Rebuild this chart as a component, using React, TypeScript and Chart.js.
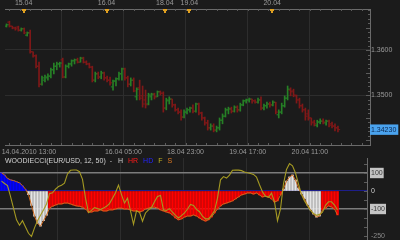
import { useEffect, useRef } from 'react';
import { Chart, registerables } from 'chart.js';

Chart.register(...registerables);

const FONT = '"Liberation Sans", Arial, sans-serif';
const BG = '#1b1b1b';
const GRID = '#2d2d2d';

// ---- Price bars (EUR/USD, hourly) ----
const open = [
  1.3653, 1.3662, 1.3653, 1.3649, 1.3651, 1.3644, 1.3647, 1.3633, 1.3638, 1.3596,
  1.3587, 1.3564, 1.3524, 1.3533, 1.3538, 1.3542, 1.3556, 1.3564, 1.3569, 1.3578,
  1.3540, 1.3564, 1.3569, 1.3576, 1.3578, 1.3573, 1.3582, 1.3573, 1.3569, 1.3562,
  1.3533, 1.3547, 1.3540, 1.3549, 1.3538, 1.3533, 1.3518, 1.3531, 1.3536, 1.3547,
  1.3558, 1.3538, 1.3524, 1.3533, 1.3496, 1.3516, 1.3498, 1.3489, 1.3480, 1.3496,
  1.3502, 1.3496, 1.3507, 1.3504, 1.3471, 1.3487, 1.3491, 1.3478, 1.3467, 1.3462,
  1.3451, 1.3462, 1.3467, 1.3471, 1.3464, 1.3480, 1.3460, 1.3449, 1.3438, 1.3427,
  1.3431, 1.3422, 1.3427, 1.3444, 1.3453, 1.3467, 1.3469, 1.3464, 1.3473, 1.3467,
  1.3478, 1.3487, 1.3489, 1.3491, 1.3487, 1.3484, 1.3489, 1.3471, 1.3476, 1.3480,
  1.3478, 1.3484, 1.3456, 1.3462, 1.3476, 1.3493, 1.3511, 1.3509, 1.3498, 1.3489,
  1.3476, 1.3467, 1.3458, 1.3449, 1.3440, 1.3433, 1.3440, 1.3442, 1.3438, 1.3442,
  1.3436, 1.3431, 1.3427,
];
const high = [
  1.3658, 1.3664, 1.3653, 1.3651, 1.3653, 1.3649, 1.3649, 1.3640, 1.3644, 1.3596,
  1.3589, 1.3573, 1.3542, 1.3544, 1.3547, 1.3560, 1.3571, 1.3573, 1.3573, 1.3582,
  1.3567, 1.3571, 1.3578, 1.3580, 1.3582, 1.3584, 1.3584, 1.3576, 1.3571, 1.3564,
  1.3551, 1.3551, 1.3553, 1.3551, 1.3542, 1.3540, 1.3533, 1.3538, 1.3551, 1.3560,
  1.3560, 1.3542, 1.3538, 1.3538, 1.3516, 1.3533, 1.3520, 1.3511, 1.3504, 1.3504,
  1.3504, 1.3509, 1.3509, 1.3507, 1.3493, 1.3496, 1.3491, 1.3480, 1.3471, 1.3467,
  1.3467, 1.3471, 1.3473, 1.3478, 1.3482, 1.3482, 1.3462, 1.3451, 1.3444, 1.3436,
  1.3436, 1.3431, 1.3449, 1.3458, 1.3471, 1.3473, 1.3473, 1.3476, 1.3476, 1.3482,
  1.3489, 1.3491, 1.3493, 1.3491, 1.3489, 1.3493, 1.3496, 1.3480, 1.3484, 1.3484,
  1.3487, 1.3484, 1.3467, 1.3482, 1.3498, 1.3520, 1.3516, 1.3513, 1.3500, 1.3493,
  1.3480, 1.3471, 1.3467, 1.3449, 1.3444, 1.3444, 1.3447, 1.3447, 1.3444, 1.3444,
  1.3440, 1.3436, 1.3431,
];
const low = [
  1.3651, 1.3651, 1.3647, 1.3644, 1.3642, 1.3642, 1.3636, 1.3631, 1.3593, 1.3584,
  1.3560, 1.3518, 1.3522, 1.3529, 1.3533, 1.3538, 1.3547, 1.3556, 1.3562, 1.3538,
  1.3538, 1.3560, 1.3564, 1.3569, 1.3571, 1.3573, 1.3571, 1.3567, 1.3560, 1.3529,
  1.3529, 1.3536, 1.3536, 1.3533, 1.3529, 1.3522, 1.3511, 1.3520, 1.3533, 1.3533,
  1.3533, 1.3518, 1.3520, 1.3507, 1.3489, 1.3489, 1.3473, 1.3471, 1.3478, 1.3489,
  1.3491, 1.3496, 1.3500, 1.3462, 1.3467, 1.3480, 1.3473, 1.3464, 1.3458, 1.3444,
  1.3449, 1.3458, 1.3462, 1.3460, 1.3462, 1.3456, 1.3444, 1.3433, 1.3422, 1.3422,
  1.3418, 1.3418, 1.3422, 1.3436, 1.3451, 1.3458, 1.3460, 1.3462, 1.3462, 1.3464,
  1.3476, 1.3482, 1.3484, 1.3482, 1.3482, 1.3482, 1.3467, 1.3467, 1.3471, 1.3473,
  1.3476, 1.3458, 1.3449, 1.3458, 1.3473, 1.3489, 1.3498, 1.3496, 1.3482, 1.3471,
  1.3462, 1.3444, 1.3444, 1.3433, 1.3431, 1.3429, 1.3436, 1.3436, 1.3433, 1.3429,
  1.3427, 1.3420, 1.3418,
];
const close = [
  1.3656, 1.3653, 1.3649, 1.3647, 1.3644, 1.3647, 1.3638, 1.3638, 1.3596, 1.3587,
  1.3564, 1.3524, 1.3538, 1.3540, 1.3542, 1.3556, 1.3564, 1.3569, 1.3571, 1.3540,
  1.3564, 1.3569, 1.3576, 1.3578, 1.3573, 1.3582, 1.3573, 1.3569, 1.3562, 1.3533,
  1.3547, 1.3540, 1.3549, 1.3538, 1.3533, 1.3527, 1.3531, 1.3536, 1.3547, 1.3558,
  1.3538, 1.3524, 1.3533, 1.3509, 1.3513, 1.3493, 1.3480, 1.3478, 1.3500, 1.3502,
  1.3496, 1.3507, 1.3504, 1.3471, 1.3489, 1.3491, 1.3478, 1.3467, 1.3462, 1.3451,
  1.3462, 1.3467, 1.3471, 1.3464, 1.3480, 1.3460, 1.3449, 1.3438, 1.3427, 1.3431,
  1.3422, 1.3427, 1.3444, 1.3453, 1.3467, 1.3469, 1.3464, 1.3473, 1.3467, 1.3478,
  1.3487, 1.3489, 1.3491, 1.3487, 1.3484, 1.3489, 1.3471, 1.3476, 1.3480, 1.3478,
  1.3484, 1.3462, 1.3462, 1.3476, 1.3493, 1.3513, 1.3507, 1.3500, 1.3489, 1.3476,
  1.3467, 1.3453, 1.3449, 1.3438, 1.3436, 1.3440, 1.3442, 1.3440, 1.3442, 1.3433,
  1.3431, 1.3427, 1.3423,
];

// ---- Woodie CCI (12, 50) ----
const cciHist = [
  100, 90, 70, 62, 58, 52, 45, 30, 10,
  -20, -80, -140, -180, -195, -165, -135,
  -95, -85, -78, -72, -72, -67, -67, -72, -78, -83, -85, -90, -100, -117,
  -117, -111, -111, -105, -111, -111, -105, -105, -100, -95, -95, -100, -100, -105, -111, -111, -117, -111, -100, -95,
  -90, -90, -95, -105, -111, -117, -122, -133, -150, -160, -155, -145, -139, -139, -133, -139, -150, -160, -167, -160,
  -145, -122, -100, -83, -72, -67, -61, -55, -44, -33, -22, -17, -11, -11, -17, -11, -22, -33, -28, -33, -44, -61, -55, -22,
  11, 55, 78, 89, 61, 17,
  -17, -44, -78, -105, -128, -145, -139,
  -105, -95, -83, -89, -100, -133,
];
// 1 = up trend (HD), -1 = down trend (HR), 0 = neutral (H)
const trend = [
  1, 1, 1, 1, 1, 1, 1, 1, 1,
  0, 0, 0, 0, 0, 0, 0,
  -1, -1, -1, -1, -1, -1, -1, -1, -1, -1, -1, -1, -1, -1,
  -1, -1, -1, -1, -1, -1, -1, -1, -1, -1, -1, -1, -1, -1, -1, -1, -1, -1, -1, -1,
  -1, -1, -1, -1, -1, -1, -1, -1, -1, -1, -1, -1, -1, -1, -1, -1, -1, -1, -1, -1,
  -1, -1, -1, -1, -1, -1, -1, -1, -1, -1, -1, -1, -1, -1, -1, -1, -1, -1, -1, -1, -1, -1, -1, -1,
  0, 0, 0, 0, 0, 0,
  0, 0, 0, 0, 0, 0, 0,
  -1, -1, -1, -1, -1, -1,
];
const turbo = [
  55, 42, 30, -30, -95, -160, -190, -165, -200, -235,
  -252, -205, -165, -135, -105, -72, -15, -10, 10, 25,
  32, 43, 95, 115, 117, 117, 107, 65, -40, -120,
  -108, -92, -98, -103, -95, -85, -70, -40, -10, 33,
  -20, -67, -40, -110, -185, -110, -118, -168, -122, -105,
  -92, -60, -30, -25, -105, -108, -98, -118, -135, -150,
  -137, -122, -100, -75, -80, -102, -115, -140, -155, -155,
  -135, -110, -40, 62, 80, 72, 88, 115, 117, 116,
  113, 106, 101, 97, 92, 78, 35, -5, -30, -35,
  -12, -60, -165, -100, 40, 120, 152, 140, 100, 40,
  -20, -55, -82, -108, -125, -135, -130, -118, -80, -60,
  -60, -78, -105,
];

// ---- Axis ticks (bar index positions) ----
const topTickPos = [5.8, 33.8, 53.5, 61.8, 89.8];
const topTickLabels = ['15.04', '16.04', '18.04', '19.04', '20.04'];
const gridPos = [18.5, 39.5, 60.5, 81.5, 102.5];
const bottomTickPos = [7.6, 18.5, 39.5, 60.5, 81.5, 102.5];
const bottomTickLabels = ['14.04.2010 13:00', '', '16.04 05:00', '18.04 23:00', '19.04 17:00', '20.04 11:00'];
const priceTicks = [1.35, 1.36];
const cciTicks = [100, 0, -100, -250];

const GREEN = '#268026';
const REDBAR = '#801818';

export default function App() {
  const priceRef = useRef<HTMLCanvasElement>(null);
  const cciRef = useRef<HTMLCanvasElement>(null);

  useEffect(() => {
    const idx = close.map((_, i) => i);
    const colors = idx.map((i) => (close[i] >= open[i] ? GREEN : REDBAR));
    const lastClose = close[close.length - 1];
    const font = { family: FONT, size: 7 };

    const priceDecor = {
      id: 'priceDecor',
      afterDraw(chart: any) {
        const { ctx, chartArea: a, scales } = chart;
        const xs = scales.x;
        const ys = scales.y;
        ctx.save();
        ctx.strokeStyle = '#5c5c5c';
        ctx.lineWidth = 1;
        for (let k = 1339; k <= 1369; k++) {
          const py = Math.round(ys.getPixelForValue(k / 1000)) + 0.5;
          if (py < a.top || py > a.bottom) continue;
          const len = k % 5 === 0 ? 4 : 2;
          ctx.beginPath();
          ctx.moveTo(a.right - len, py);
          ctx.lineTo(a.right, py);
          ctx.stroke();
        }
        for (let k = 0; k < 36; k++) {
          const px = Math.round(xs.getPixelForValue(1 + k * 3.5)) + 0.5;
          if (px > a.right) continue;
          ctx.beginPath();
          ctx.moveTo(px, a.top);
          ctx.lineTo(px, a.top + 2);
          ctx.moveTo(px, a.bottom - 2);
          ctx.lineTo(px, a.bottom);
          ctx.stroke();
        }
        ctx.fillStyle = '#e0a020';
        for (const p of topTickPos) {
          const px = Math.round(xs.getPixelForValue(p));
          ctx.fillRect(px - 2, a.top, 4, 2);
          ctx.fillRect(px - 1, a.top + 2, 2, 2);
        }
        ctx.restore();
      },
    };

    const cciDecor = {
      id: 'cciDecor',
      afterDraw(chart: any) {
        const { ctx, chartArea: a, scales } = chart;
        const ys = scales.y;
        ctx.save();
        ctx.strokeStyle = '#5c5c5c';
        ctx.lineWidth = 1;
        for (let v = -250; v <= 150; v += 50) {
          const py = Math.round(ys.getPixelForValue(v)) + 0.5;
          ctx.beginPath();
          ctx.moveTo(a.right - 3, py);
          ctx.lineTo(a.right, py);
          ctx.stroke();
        }
        const segs: [string, string][] = [
          ['WOODIECCI(EUR/USD, 12, 50)  -', '#d2d2d2'],
          ['H', '#cfcfcf'],
          ['HR', '#ff1a1a'],
          ['HD', '#2424ff'],
          ['F', '#c2b21e'],
          ['S', '#e07a22'],
        ];
        ctx.font = `7px ${FONT}`;
        ctx.textBaseline = 'middle';
        let tx = 5;
        segs.forEach(([t, c], i) => {
          ctx.fillStyle = c;
          ctx.fillText(t, tx, 11.5);
          tx += ctx.measureText(t).width + (i === 0 ? 6 : 5);
        });
        ctx.restore();
      },
    };

    const priceChart = new Chart(priceRef.current as HTMLCanvasElement, {
      type: 'bar',
      data: {
        datasets: [
          {
            type: 'bar',
            data: idx.map((i) => ({ x: i, y: [low[i], high[i]] })) as any,
            backgroundColor: colors,
            barThickness: 1,
            order: 3,
          } as any,
          {
            type: 'line',
            data: idx.map((i) => ({ x: i - 0.4, y: open[i] })),
            showLine: false,
            pointStyle: 'line',
            pointRadius: 1,
            pointBorderWidth: 1,
            pointBorderColor: colors,
            pointBackgroundColor: colors,
            order: 2,
          } as any,
          {
            type: 'line',
            data: idx.map((i) => ({ x: i + 0.4, y: close[i] })),
            showLine: false,
            pointStyle: 'line',
            pointRadius: 1,
            pointBorderWidth: 1,
            pointBorderColor: colors,
            pointBackgroundColor: colors,
            order: 1,
          } as any,
        ],
      },
      options: {
        responsive: false,
        animation: false,
        events: [],
        layout: { padding: 0 },
        plugins: { legend: { display: false }, tooltip: { enabled: false } },
        scales: {
          x: {
            type: 'linear',
            position: 'bottom',
            min: -0.5,
            max: 370 / 3 - 0.5,
            offset: false,
            afterBuildTicks: (s: any) => {
              s.ticks = bottomTickPos.map((v) => ({ value: v }));
            },
            afterFit: (s: any) => {
              s.height = 13;
              s.paddingLeft = 0;
              s.paddingRight = 0;
            },
            ticks: {
              autoSkip: false,
              maxRotation: 0,
              minRotation: 0,
              padding: 3,
              color: '#9a9a9a',
              font,
              callback: (_v: any, i: number) => bottomTickLabels[i],
            },
            grid: {
              offset: false,
              drawTicks: false,
              color: (c: any) => (c.tick && gridPos.includes(c.tick.value) ? GRID : 'rgba(0,0,0,0)'),
            },
            border: { color: '#6a6a6a' },
          },
          xTop: {
            type: 'linear',
            position: 'top',
            min: -0.5,
            max: 370 / 3 - 0.5,
            offset: false,
            afterBuildTicks: (s: any) => {
              s.ticks = topTickPos.map((v) => ({ value: v }));
            },
            afterFit: (s: any) => {
              s.height = 9;
              s.paddingLeft = 0;
              s.paddingRight = 0;
            },
            ticks: {
              autoSkip: false,
              maxRotation: 0,
              minRotation: 0,
              padding: 2,
              color: '#9a9a9a',
              font,
              callback: (_v: any, i: number) => topTickLabels[i],
            },
            grid: { offset: false, drawTicks: false, drawOnChartArea: false },
            border: { color: '#6a6a6a' },
          },
          y: {
            type: 'linear',
            position: 'right',
            min: 1.36 - 95 / 4500,
            max: 1.36 + 41 / 4500,
            afterBuildTicks: (s: any) => {
              s.ticks = [...priceTicks, lastClose].map((v) => ({ value: v }));
            },
            afterFit: (s: any) => {
              s.width = 30;
              s.paddingTop = 0;
              s.paddingBottom = 0;
            },
            ticks: {
              autoSkip: false,
              padding: 1,
              font,
              showLabelBackdrop: true,
              backdropPadding: { top: 1, bottom: 1, left: 1, right: 2 },
              backdropColor: (c: any) =>
                c.tick && Math.abs(c.tick.value - lastClose) < 1e-9 ? '#4aa3ee' : 'rgba(0,0,0,0)',
              color: (c: any) =>
                c.tick && Math.abs(c.tick.value - lastClose) < 1e-9 ? '#0c2750' : '#9a9a9a',
              callback: (v: any) =>
                Math.abs(Number(v) - lastClose) < 1e-9 ? Number(v).toFixed(5) : Number(v).toFixed(4),
            },
            grid: {
              drawTicks: false,
              color: (c: any) =>
                c.tick && Math.abs(c.tick.value - lastClose) < 1e-9 ? 'rgba(0,0,0,0)' : GRID,
            },
            border: { color: '#6a6a6a' },
          },
        },
      } as any,
      plugins: [priceDecor],
    });

    const histColors = trend.map((t) => (t > 0 ? '#0000ff' : t < 0 ? '#ff0000' : '#e4e4e4'));

    const cciChart = new Chart(cciRef.current as HTMLCanvasElement, {
      type: 'bar',
      data: {
        datasets: [
          {
            type: 'bar',
            data: idx.map((i) => ({ x: i, y: cciHist[i] })),
            backgroundColor: histColors,
            barThickness: 2,
            order: 3,
          } as any,
          {
            type: 'line',
            data: idx.map((i) => ({ x: i, y: cciHist[i] })),
            borderColor: '#d06a1e',
            borderWidth: 1,
            pointRadius: 0,
            tension: 0,
            order: 2,
          } as any,
          {
            type: 'line',
            data: idx.map((i) => ({ x: i, y: turbo[i] })),
            borderColor: '#a59a22',
            borderWidth: 1.1,
            pointRadius: 0,
            tension: 0,
            order: 1,
          } as any,
        ],
      },
      options: {
        responsive: false,
        animation: false,
        events: [],
        layout: { padding: { top: 8, left: 0, right: 0, bottom: 0 } },
        plugins: { legend: { display: false }, tooltip: { enabled: false } },
        scales: {
          x: {
            type: 'linear',
            min: -0.5,
            max: 367 / 3 - 0.5,
            offset: false,
            afterBuildTicks: (s: any) => {
              s.ticks = gridPos.map((v) => ({ value: v }));
            },
            afterFit: (s: any) => {
              s.height = 0;
              s.paddingLeft = 0;
              s.paddingRight = 0;
            },
            ticks: { display: false },
            grid: { offset: false, drawTicks: false, color: GRID },
            border: { display: false },
          },
          y: {
            type: 'linear',
            position: 'right',
            min: -272.2,
            max: 183.3,
            afterBuildTicks: (s: any) => {
              s.ticks = cciTicks.map((v) => ({ value: v }));
            },
            afterFit: (s: any) => {
              s.width = 33;
              s.paddingTop = 0;
              s.paddingBottom = 0;
            },
            ticks: {
              autoSkip: false,
              padding: 4,
              font,
              showLabelBackdrop: true,
              backdropPadding: 1,
              backdropColor: (c: any) =>
                c.tick && Math.abs(c.tick.value) === 100 ? '#c4c4c4' : 'rgba(0,0,0,0)',
              color: (c: any) => {
                const v = c.tick ? c.tick.value : 0;
                if (Math.abs(v) === 100) return '#3a3a3a';
                if (v === 0) return '#d0d0d0';
                return '#8a8a8a';
              },
              callback: (v: any) => String(v),
            },
            grid: {
              drawTicks: false,
              color: (c: any) => {
                const v = c.tick ? c.tick.value : 0;
                if (v === 0) return '#1e1e8a';
                if (Math.abs(v) === 100) return '#7c7c7c';
                return 'rgba(0,0,0,0)';
              },
              lineWidth: (c: any) => (c.tick && Math.abs(c.tick.value) === 100 ? 1.5 : 1),
            },
            border: { color: '#6a6a6a' },
          },
        },
      } as any,
      plugins: [cciDecor],
    });

    return () => {
      priceChart.destroy();
      cciChart.destroy();
    };
  }, []);

  return (
    <div
      style={{
        position: 'fixed',
        left: 0,
        top: 0,
        width: 400,
        height: 240,
        background: BG,
        overflow: 'hidden',
      }}
    >
      <canvas ref={priceRef} width={400} height={158} style={{ position: 'absolute', left: 0, top: 0 }} />
      <canvas ref={cciRef} width={400} height={90} style={{ position: 'absolute', left: 0, top: 150 }} />
    </div>
  );
}
